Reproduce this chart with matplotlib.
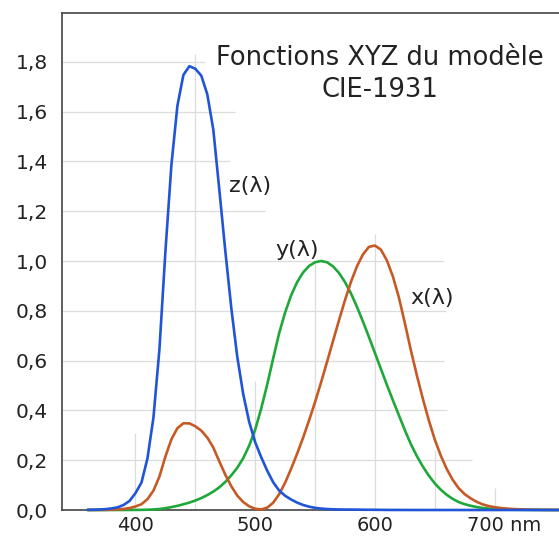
import numpy as np
import matplotlib.pyplot as plt
from matplotlib.transforms import ScaledTranslation

## Fonctions colorimetriques CIE-1931 (lues sur la figure, pas de 5 nm)
wl = np.arange(360, 761, 5)

xbar = [0.000130, 0.000232, 0.000415, 0.000742, 0.001368, 0.002236, 0.004243, 0.007650,
        0.014310, 0.023190, 0.043510, 0.077630, 0.134380, 0.214770, 0.283900, 0.328500,
        0.348280, 0.348060, 0.336200, 0.318700, 0.290800, 0.251100, 0.195360, 0.142100,
        0.095640, 0.057950, 0.032010, 0.014700, 0.004900, 0.002400, 0.009300, 0.029100,
        0.063270, 0.109600, 0.165500, 0.225750, 0.290400, 0.359700, 0.433450, 0.512050,
        0.594500, 0.678400, 0.762100, 0.842500, 0.916300, 0.978600, 1.026300, 1.056700,
        1.062200, 1.045600, 1.002600, 0.938400, 0.854450, 0.751400, 0.642400, 0.541900,
        0.447900, 0.360800, 0.283500, 0.218700, 0.164900, 0.121200, 0.087400, 0.063600,
        0.046770, 0.032900, 0.022700, 0.015840, 0.011359, 0.008111, 0.005790, 0.004109,
        0.002899, 0.002049, 0.001440, 0.001000, 0.000690, 0.000476, 0.000332, 0.000235,
        0.000166]

ybar = [0.000004, 0.000007, 0.000012, 0.000022, 0.000039, 0.000064, 0.000120, 0.000217,
        0.000396, 0.000640, 0.001210, 0.002180, 0.004000, 0.007300, 0.011600, 0.016840,
        0.023000, 0.029800, 0.038000, 0.048000, 0.060000, 0.073900, 0.090980, 0.112600,
        0.139020, 0.169300, 0.208020, 0.258600, 0.323000, 0.407300, 0.503000, 0.608200,
        0.710000, 0.793200, 0.862000, 0.914850, 0.954000, 0.980300, 0.994950, 1.000000,
        0.995000, 0.978600, 0.952000, 0.915400, 0.870000, 0.816300, 0.757000, 0.694900,
        0.631000, 0.566800, 0.503000, 0.441200, 0.381000, 0.321000, 0.265000, 0.217000,
        0.175000, 0.138200, 0.107000, 0.081600, 0.061000, 0.044580, 0.032000, 0.023200,
        0.017000, 0.011920, 0.008210, 0.005723, 0.004102, 0.002929, 0.002091, 0.001484,
        0.001047, 0.000740, 0.000520, 0.000361, 0.000249, 0.000172, 0.000120, 0.000085,
        0.000060]

zbar = [0.000606, 0.001086, 0.001946, 0.003486, 0.006450, 0.010550, 0.020050, 0.036210,
        0.067850, 0.110200, 0.207400, 0.371300, 0.645600, 1.039050, 1.385600, 1.622960,
        1.747060, 1.782600, 1.772110, 1.744100, 1.669200, 1.528100, 1.287640, 1.041900,
        0.812950, 0.616200, 0.465180, 0.353300, 0.272000, 0.212300, 0.158200, 0.111700,
        0.078250, 0.057250, 0.042160, 0.029840, 0.020300, 0.013400, 0.008750, 0.005750,
        0.003900, 0.002750, 0.002100, 0.001800, 0.001650, 0.001400, 0.001100, 0.001000,
        0.000800, 0.000600, 0.000340, 0.000240, 0.000190, 0.000100, 0.000050, 0.000030,
        0.000020, 0.000010] + [0.0] * 23

yticks = [0.0, 0.2, 0.4, 0.6, 0.8, 1.0, 1.2, 1.4, 1.6, 1.8]
ytlabels = ['0,0', '0,2', '0,4', '0,6', '0,8', '1,0', '1,2', '1,4', '1,6', '1,8']
xticks = [400, 500, 600, 700]
xtlabels = ['400', '500', '600', '700 nm']

titre = 'Fonctions XYZ du modèle\nCIE-1931'

plt.rcParams['font.family'] = 'DejaVu Sans'
txtc = '#222222'

fig = plt.figure(figsize=(5.59, 5.36), dpi=100)
ax = fig.add_axes([0.1109, 0.0485, 0.8891, 0.9272])
ax.set_xlim(338.6, 753.8)
ax.set_ylim(0, 1.996)

## grille irreguliere (longueurs)
hgrid_end = [458, 483, 479, 508, 658, 659, 658, 660, 681]
for v, xe in zip(yticks[1:][::-1], hgrid_end):
    ax.hlines(v, 338.6, xe, color='#dcdcdc', lw=0.9, zorder=0)
vgrid = [400, 450, 500, 550, 600, 650, 700]
vgrid_top = [0.31, 1.83, 0.52, 1.0, 1.11, 0.24, 0.09]
ax.vlines(vgrid, 0, vgrid_top, color='#dcdcdc', lw=0.9, zorder=0)

kw = dict(lw=1.9, clip_on=False, solid_joinstyle='round', solid_capstyle='round')
ax.plot(wl, ybar, color='#1fa83a', zorder=3, **kw)
ax.plot(wl, xbar, color='#c65a26', zorder=3, **kw)
ax.plot(wl, zbar, color='#1f55d6', zorder=4, **kw)

ax.spines['right'].set_visible(False)
for s in ['left', 'top', 'bottom']:
    ax.spines[s].set_color('#444444')
    ax.spines[s].set_linewidth(1.2)

ax.set_yticks(yticks)
ax.set_yticklabels(ytlabels)
ax.set_xticks(xticks)
ax.set_xticklabels(xtlabels)
ax.tick_params(length=0, labelsize=14.5, labelcolor=txtc)
ax.tick_params(axis='y', pad=10)
ax.tick_params(axis='x', labelsize=14, pad=4)
lab = ax.get_xticklabels()[-1]
lab.set_horizontalalignment('left')
lab.set_transform(lab.get_transform() + ScaledTranslation(-0.28, 0, fig.dpi_scale_trans))

ax.text(604.5, 1.75, titre, ha='center', va='center', fontsize=18.5, color=txtc, linespacing=1.3)
ax.text(495.7, 1.30, 'z(λ)', ha='center', va='center', fontsize=16, color=txtc)
ax.text(535, 1.044, 'y(λ)', ha='center', va='center', fontsize=16, color=txtc)
ax.text(647.7, 0.851, 'x(λ)', ha='center', va='center', fontsize=16, color=txtc)

fig.savefig('out.png', dpi=100)
